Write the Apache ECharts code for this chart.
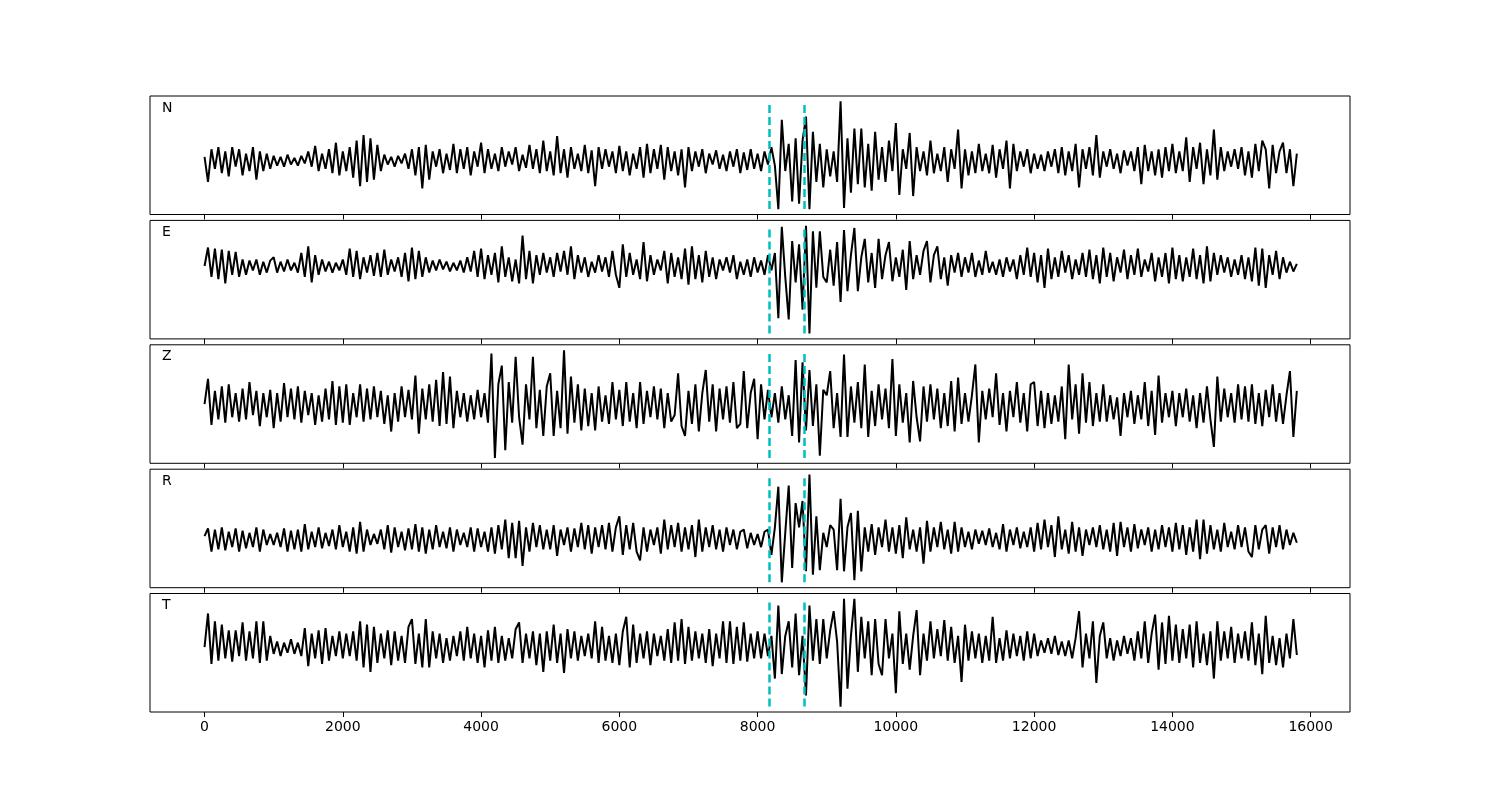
<!DOCTYPE html>
<html><head><meta charset="utf-8">
<script src="https://cdn.jsdelivr.net/npm/echarts@6/dist/echarts.min.js"></script>
<style>html,body{margin:0;padding:0;background:#fff}#chart{width:1500px;height:800px}</style>
</head><body><div id="chart"></div>
<script>
const channels = ['N', 'E', 'Z', 'R', 'T'];
const sampleStep = 50;              // sample spacing of the traces (x units)
const pickTimes = [8170, 8680];     // dashed cyan markers
const xTicks = [0, 2000, 4000, 6000, 8000, 10000, 12000, 14000, 16000];

const traceN = [
 3,-20,10,-8,12,-12,8,-15,12,-6,10,-14,6,-10,12,-18,8,-10,6,-8,
 4,-5,3,-6,5,-4,2,-5,4,-3,8,-6,13,-10,6,-8,10,-12,16,-14,
 8,-10,12,-16,18,-24,23,-20,20,-18,14,-10,5,-4,3,-6,4,-3,6,-8,
 10,-14,12,-26,14,-18,8,-6,10,-12,6,-9,15,-12,10,-8,12,-14,8,-6,
 16,-12,10,-8,6,-10,12,-6,8,-4,12,-10,5,-7,14,-8,10,-12,18,-10,
 8,-14,22,-12,10,-16,12,-8,6,-10,14,-12,9,-24,12,-8,10,-6,8,-12,
 13,-10,8,-14,6,-8,12,-16,15,-12,10,-8,14,-18,12,-10,8,-14,10,-25,
 12,-10,8,-6,10,-12,6,-4,9,-8,5,-10,8,-6,10,-12,7,-9,10,-8,
 6,-10,8,-4,12,-5,-45,37,-10,15,-38,20,-40,18,40,-45,26,-20,15,-25,
 10,-15,8,-20,54,-44,20,-30,29,-22,29,-25,15,-28,26,-18,12,-20,18,-10,
 34,-32,10,-8,25,-33,12,-10,8,-14,18,-12,6,-10,12,-20,10,-8,28,-26,
 10,-14,8,-12,15,-10,6,-12,14,-16,10,-8,18,-26,15,-10,8,-6,10,-12,
 6,-8,5,-10,8,-6,10,-12,12,-14,8,-10,15,-25,10,-8,12,-14,23,-16,
 8,-6,10,-8,6,-12,9,-5,8,-10,12,-22,14,-10,8,-14,10,-16,12,-10,
 15,-12,8,-10,21,-20,12,-8,16,-22,10,-14,28,-18,12,-10,8,-6,10,-8,
 12,-14,8,-16,15,-10,18,10,-26,14,-12,8,16,-12,10,-24,6
];
const traceE = [
 0,17,-10,16,-12,15,-16,14,-8,13,-10,6,-8,5,-4,6,-8,4,-6,5,
 8,-6,4,-5,6,-4,3,-6,12,-10,18,-15,10,-8,6,-5,4,-6,3,-4,
 6,-8,16,-10,14,-12,8,-6,10,-9,12,-10,15,-8,6,-5,8,-10,12,-14,
 17,-12,14,-10,8,-6,5,-4,6,-3,4,-5,3,-4,5,-6,8,-5,14,-10,
 16,-12,10,-8,12,-15,18,-10,8,-14,6,-16,28,-12,14,-16,10,-8,12,-6,
 8,-10,12,-5,14,-8,18,-12,10,-6,8,-10,4,-6,10,-5,8,-10,14,-8,
 -20,20,-10,12,-8,6,-12,22,-14,10,-8,6,-4,14,-16,12,-10,8,-12,16,
 -17,18,-12,10,-15,14,-10,8,-12,6,-4,8,-6,10,-12,4,-8,6,-10,8,
 -6,5,-8,10,-4,12,-48,36,-10,-49,23,-15,20,-40,37,-62,32,-20,32,-10,
 -15,15,-18,22,-33,33,-23,10,35,-23,8,25,-15,12,-20,25,-12,10,22,-14,
 8,-10,15,-22,23,-12,10,-8,14,23,-15,10,18,-12,8,-18,10,-6,12,-10,
 8,-6,12,-10,5,-8,14,-6,4,-8,6,-10,8,-5,6,-12,10,-8,17,-10,
 12,-15,10,-20,16,-12,8,-10,14,-6,10,-12,6,-8,12,-10,15,-12,10,-16,
 17,-10,12,-14,8,-6,15,-12,10,-8,16,-10,6,-5,12,-14,8,-10,12,-16,
 17,-12,10,-14,8,-10,16,-12,10,-16,18,-14,12,-8,10,-6,8,-10,6,-8,
 10,-12,8,-14,17,-18,16,-20,10,-8,14,-12,8,-6,4,-5,2
];
const traceZ = [
 2,25,-17,14,-12,18,-15,20,-10,12,-14,16,-12,22,-8,14,-18,12,-10,15,
 -20,12,-14,21,-10,16,-12,18,-15,14,-8,12,-17,10,-14,16,-12,23,-17,18,
 -15,20,-17,12,-10,20,-14,16,-12,18,-10,14,-16,10,-23,12,-14,18,-10,15,
 -12,28,-25,16,-12,20,-14,24,-18,31,-16,27,-20,14,-10,12,-14,10,-12,15,
 -10,12,-15,48,-47,20,37,-40,22,-15,45,-10,-35,20,-12,45,-20,15,-27,18,
 30,-27,14,-20,51,-25,27,-15,20,-22,16,-18,12,-22,18,-14,10,-16,22,-12,
 15,-18,22,-14,12,-20,22,-16,14,-10,18,-12,16,-20,12,-14,-8,30,-18,-27,
 14,-16,20,-23,12,33,-14,20,-23,16,-12,18,-15,22,-20,-16,32,-20,12,25,
 -30,20,-12,15,-10,12,-15,18,-12,10,-27,42,-33,40,-22,33,-18,20,-45,15,
 10,32,-20,12,-28,47,-28,18,-15,22,-20,38,-28,14,-18,20,-12,16,-20,43,
 -27,20,-15,12,-33,23,-10,-32,18,-14,20,-12,16,-20,12,-18,23,-23,26,-16,
 12,-14,10,38,-33,14,-12,16,-10,30,-17,12,-23,14,-10,22,-15,12,-23,20,
 22,-18,14,-20,12,-16,10,-14,18,-30,38,-12,20,-25,30,-15,22,-18,12,-14,
 20,-14,10,-12,8,-27,12,-10,14,-16,10,-12,22,-18,14,-26,28,-15,12,-10,
 14,-18,12,-10,16,-14,10,-20,12,-15,18,-12,-37,27,-14,16,-10,12,-15,20,
 -12,18,-14,20,-16,12,-18,15,-10,20,-14,12,-16,10,32,-28,14
];
const traceR = [
 2,9,-12,8,-10,10,-11,6,-8,9,-12,7,-9,5,-8,10,-12,8,-6,4,
 -6,5,-8,9,-12,7,-10,8,-12,13,-10,6,-8,10,-9,5,-7,8,-10,12,
 -8,6,-12,10,-14,15,-12,8,-6,4,-5,8,-10,12,-13,10,-8,6,-11,9,
 -10,13,-12,10,-14,8,-10,12,-8,6,-9,10,-12,8,-6,5,-8,10,-12,9,
 -8,6,-12,10,-14,12,-10,17,-18,14,-18,16,-25,10,-12,14,-8,12,-10,8,
 -10,12,-16,8,-6,10,-12,9,-8,14,-10,12,-14,10,-8,12,-10,14,-12,10,
 20,-15,12,-10,14,-12,-20,10,-12,8,-6,10,-14,17,-10,12,-8,14,-12,10,
 -10,12,-17,17,-12,10,-8,12,-10,8,-12,10,-6,8,-10,6,8,-9,5,-6,
 4,-8,6,8,-15,10,47,-40,5,48,-27,32,10,34,-30,58,-33,20,-29,5,
 -8,12,8,-29,36,-30,10,23,-38,25,-30,10,-12,13,-15,10,-8,17,-12,10,
 -14,12,-18,19,-10,8,-12,10,-23,16,-12,10,-8,15,-10,8,-14,15,-12,10,
 -8,6,-10,8,-5,7,-6,9,-8,5,-10,13,-12,8,-6,10,-9,6,-8,10,
 -12,14,-10,17,-8,12,-17,20,-10,8,-14,15,-12,10,-16,8,-6,10,-8,12,
 -10,8,-12,14,-16,15,-8,10,-12,13,-9,8,-6,10,-12,8,-10,12,-8,10,
 -12,14,-10,12,-15,10,-12,17,-19,17,-14,12,-10,8,-12,14,-8,6,-10,12,
 -8,10,-12,-17,12,-10,8,12,-14,10,-8,12,-10,8,-6,5,-4
];
const traceT = [
 0,30,-15,23,-12,20,-10,15,-13,15,-8,22,-12,14,-10,23,-14,23,-12,10,
 -6,5,-8,4,-5,7,-6,4,-8,17,-17,12,-10,15,-15,17,-12,10,-8,14,
 -10,12,-8,14,-12,23,-18,20,-22,18,-14,12,-10,15,-16,14,-12,10,-14,18,
 25,-15,12,-18,25,-18,14,-10,12,-14,8,-12,10,-8,14,-12,18,-10,12,-14,
 10,-18,15,-12,18,-14,10,-12,8,-10,16,22,-14,12,-10,14,-16,12,-22,14,
 -12,20,-14,12,-23,16,-10,14,-12,10,-8,12,-10,23,-14,18,-12,10,-14,12,
 -16,14,27,-18,20,-14,12,-10,14,-16,12,-8,10,-12,16,-14,22,-12,25,-15,
 18,-12,14,-10,12,-14,16,-17,12,-10,23,-14,23,-15,18,-12,22,-13,12,-10,
 14,-10,12,-8,10,-28,37,-24,10,23,-18,30,-25,10,-43,37,-12,25,-15,25,
 -10,15,32,5,-53,43,-37,10,43,-22,27,-10,23,-25,25,-15,-25,25,-10,12,
 -41,32,-15,12,-20,10,33,-25,12,-12,23,-10,16,-8,24,-12,18,-14,10,-31,
 20,-12,14,-10,12,-14,10,-12,27,-14,8,-12,15,-10,12,-8,10,-12,14,-10,
 12,-8,6,-5,8,-6,10,-7,5,-8,6,-10,8,32,-18,12,-10,23,-32,10,
 22,-10,8,-12,6,-8,10,-6,8,-12,14,-10,23,-14,12,29,-20,22,-15,28,
 -12,20,-14,16,-10,20,-18,23,-14,12,-16,14,-28,23,-12,14,-10,18,-14,12,
 -10,14,-12,22,-16,12,-24,28,-14,10,-16,8,-18,12,-10,25,-7
];

const traces = [traceN, traceE, traceZ, traceR, traceT];

const gridTops = [96, 220.4, 344.8, 469.2, 593.5];
const gridH = 118.5;
const xMin = -789, xMax = 16569;

const grids = [], xAxes = [], yAxes = [], series = [], graphics = [];
traces.forEach((vals, i) => {
  const data = vals.map((v, k) => [k * sampleStep, v]);
  const lo = Math.min(...vals), hi = Math.max(...vals);
  const pad = (hi - lo) * 0.05;
  grids.push({left: 150, width: 1200, top: gridTops[i], height: gridH,
    show: true, borderColor: '#000', borderWidth: 1, backgroundColor: 'transparent'});
  xAxes.push({
    gridIndex: i, type: 'value', min: xMin, max: xMax, position: 'bottom',
    splitLine: {show: false}, axisLine: {show: false, onZero: false},
    axisTick: {show: true, length: 5, customValues: xTicks, lineStyle: {color: '#000', width: 1}},
    axisLabel: {show: i === traces.length - 1, customValues: xTicks, color: '#000',
      fontSize: 14, fontFamily: 'DejaVu Sans', margin: 8, formatter: v => String(v)}
  });
  yAxes.push({gridIndex: i, type: 'value', show: false, min: lo - pad, max: hi + pad,
    splitLine: {show: false}});
  series.push({
    type: 'line', xAxisIndex: i, yAxisIndex: i, data: data,
    showSymbol: false, symbol: 'none', animation: false, silent: true, z: 2,
    lineStyle: {color: '#000', width: 2},
    markLine: {
      silent: true, symbol: ['none', 'none'], animation: false, z: 5,
      label: {show: false},
      lineStyle: {color: '#00bfbf', type: [8, 4], width: 2.5},
      emphasis: {disabled: true},
      data: pickTimes.map(t => [{coord: [t, lo]}, {coord: [t, hi]}])
    }
  });
  graphics.push({type: 'text', left: 162, top: gridTops[i] + 5,
    style: {text: channels[i], fontSize: 14, fontFamily: 'DejaVu Sans', fill: '#000'}});
});

const chart = echarts.init(document.getElementById('chart'), null, {renderer: 'canvas'});
chart.setOption({
  animation: false,
  backgroundColor: '#fff',
  grid: grids, xAxis: xAxes, yAxis: yAxes, series: series, graphic: graphics
});
</script>
</body></html>
